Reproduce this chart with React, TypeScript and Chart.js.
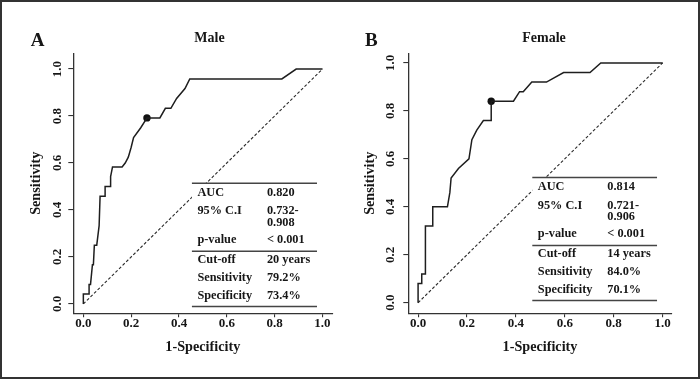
import React, { useEffect, useRef } from "react";
import { Chart, registerables } from "chart.js";

Chart.register(...registerables);

const TICKS = [0, 0.2, 0.4, 0.6, 0.8, 1.0];

const MALE_FPR = [0, 0, 0.024, 0.024, 0.03, 0.038, 0.042, 0.046, 0.056, 0.066, 0.07, 0.091, 0.091, 0.112, 0.114, 0.122, 0.162, 0.175, 0.188, 0.2, 0.21, 0.24, 0.266, 0.32, 0.343, 0.366, 0.39, 0.425, 0.445, 0.83, 0.89, 1.0];
const MALE_TPR = [0, 0.042, 0.042, 0.083, 0.083, 0.167, 0.167, 0.25, 0.25, 0.333, 0.458, 0.458, 0.5, 0.5, 0.542, 0.583, 0.583, 0.6, 0.625, 0.667, 0.708, 0.75, 0.792, 0.792, 0.833, 0.833, 0.875, 0.917, 0.958, 0.958, 1.0, 1.0];

const FEMALE_FPR = [0, 0, 0.015, 0.015, 0.03, 0.03, 0.06, 0.06, 0.12, 0.13, 0.135, 0.165, 0.208, 0.22, 0.24, 0.267, 0.299, 0.299, 0.39, 0.415, 0.43, 0.465, 0.525, 0.595, 0.703, 0.747, 1.0];
const FEMALE_TPR = [0, 0.08, 0.08, 0.12, 0.12, 0.32, 0.32, 0.4, 0.4, 0.46, 0.52, 0.56, 0.6, 0.68, 0.72, 0.76, 0.76, 0.84, 0.84, 0.88, 0.88, 0.92, 0.92, 0.96, 0.96, 1.0, 1.0];

const MALE_CUTOFF = [0.266, 0.792];
const FEMALE_CUTOFF = [0.299, 0.84];

const STAT_LABELS = ["AUC", "95% C.I", "p-value", "Cut-off", "Sensitivity", "Specificity"];
const MALE_STATS = ["0.820", "0.732-\n0.908", "< 0.001", "20 years", "79.2%", "73.4%"];
const FEMALE_STATS = ["0.814", "0.721-\n0.906", "< 0.001", "14 years", "84.0%", "70.1%"];

const FONT = "'Liberation Serif', 'Times New Roman', serif";
const INK = "#161616";

type Panel = {
  letter: string;
  title: string;
  fpr: number[];
  tpr: number[];
  cut: number[];
  stats: string[];
  xRange: [number, number];
  yRange: [number, number];
  yAxisW: number;
  padRight: number;
  yTitlePad: number;
  yTickPad: number;
  table: [number, number, number];
  letterX: number;
  titleDx: number;
};

const PANELS: Panel[] = [
  {
    letter: "A", title: "Male", fpr: MALE_FPR, tpr: MALE_TPR, cut: MALE_CUTOFF, stats: MALE_STATS,
    xRange: [-0.042, 1.041], yRange: [-0.04, 1.067], yAxisW: 73.3, padRight: 17.7,
    yTitlePad: 29.7, yTickPad: 2.7, table: [0.454, 0.977, 0.514], letterX: 30.7, titleDx: 6.7,
  },
  {
    letter: "B", title: "Female", fpr: FEMALE_FPR, tpr: FEMALE_TPR, cut: FEMALE_CUTOFF, stats: FEMALE_STATS,
    xRange: [-0.04, 1.037], yRange: [-0.044, 1.04], yAxisW: 58.3, padRight: 28.3,
    yTitlePad: 13, yTickPad: 4.5, table: [0.467, 0.977, 0.5225], letterX: 15, titleDx: 4,
  },
];

const decorPlugin = {
  id: "rocDecor",
  afterDatasetsDraw(chart: any, _args: any, opts: any) {
    const { ctx, scales } = chart;
    const xs = scales.x;
    const ys = scales.y;
    const [tx0, tx1, ty0] = opts.table;
    const x0 = xs.getPixelForValue(tx0);
    const x1 = xs.getPixelForValue(tx1);
    const top = ys.getPixelForValue(ty0);
    const ROWS = [9.4, 28, 56.4, 76.7, 94.4, 112.7];
    const MID = 68;
    const BOT = 123.2;
    ctx.save();
    ctx.fillStyle = "#ffffff";
    ctx.fillRect(x0, top, x1 - x0, BOT);
    ctx.strokeStyle = "#444";
    ctx.lineWidth = 1.5;
    [0, MID, BOT].forEach((dy) => {
      ctx.beginPath();
      ctx.moveTo(x0, top + dy);
      ctx.lineTo(x1, top + dy);
      ctx.stroke();
    });
    ctx.fillStyle = INK;
    ctx.font = `bold 12.3px ${FONT}`;
    ctx.textBaseline = "middle";
    ctx.textAlign = "left";
    STAT_LABELS.forEach((lab, i) => {
      const yy = top + ROWS[i];
      ctx.fillText(lab, x0 + 5.5, yy);
      const parts = String(opts.stats[i]).split("\n");
      parts.forEach((p: string, k: number) => {
        ctx.fillText(p, x0 + 75, yy + k * 11.7);
      });
    });
    ctx.restore();
  },
  afterDraw(chart: any, _args: any, opts: any) {
    const { ctx, chartArea } = chart;
    ctx.save();
    ctx.fillStyle = INK;
    ctx.textBaseline = "middle";
    ctx.textAlign = "left";
    ctx.font = `bold 19px ${FONT}`;
    ctx.fillText(opts.letter, opts.letterX, 41.5);
    ctx.textAlign = "center";
    ctx.font = `bold 14px ${FONT}`;
    ctx.fillText(opts.title, (chartArea.left + chartArea.right) / 2 + opts.titleDx, 38.5);
    ctx.restore();
  },
};

function RocChart({ panel, left }: { panel: Panel; left: number }) {
  const ref = useRef<HTMLCanvasElement | null>(null);
  useEffect(() => {
    if (!ref.current) return;
    const p = panel;
    const tickFont = { family: FONT, size: 13, weight: "bold" as const, lineHeight: 1 };
    const titleFont = { family: FONT, size: 14.2, weight: "bold" as const, lineHeight: 1 };
    const setTicks = (s: any) => {
      s.ticks = TICKS.map((v) => ({ value: v }));
    };
    const chart = new Chart(ref.current, {
      type: "scatter",
      data: {
        datasets: [
          {
            data: p.fpr.map((x, i) => ({ x, y: p.tpr[i] })),
            showLine: true,
            borderColor: "#1e1e1e",
            borderWidth: 1.5,
            pointRadius: 0,
            tension: 0,
            fill: false,
          },
          {
            data: [{ x: 0, y: 0 }, { x: 1, y: 1 }],
            showLine: true,
            borderColor: "#2a2a2a",
            borderWidth: 1.1,
            borderDash: [3, 2],
            pointRadius: 0,
            fill: false,
          },
          {
            data: [{ x: p.cut[0], y: p.cut[1] }],
            showLine: false,
            pointRadius: 3.7,
            backgroundColor: "#111",
            borderColor: "#111",
            borderWidth: 0,
          },
        ],
      } as any,
      options: {
        animation: false,
        responsive: false,
        maintainAspectRatio: false,
        layout: { padding: { left: 0, top: 53.3, right: p.padRight, bottom: 0 } },
        plugins: {
          legend: { display: false },
          tooltip: { enabled: false },
          rocDecor: {
            letter: p.letter,
            title: p.title,
            stats: p.stats,
            table: p.table,
            letterX: p.letterX,
            titleDx: p.titleDx,
          },
        } as any,
        scales: {
          x: {
            type: "linear",
            min: p.xRange[0],
            max: p.xRange[1],
            afterBuildTicks: setTicks,
            afterFit: (s: any) => {
              s.height = 65.7;
            },
            grid: { display: true, drawOnChartArea: false, drawTicks: true, tickLength: 4, color: "#333", lineWidth: 1.1 },
            border: { display: true, color: "#333", width: 1.3 },
            ticks: {
              font: tickFont,
              color: INK,
              padding: 0,
              maxRotation: 0,
              autoSkip: false,
              callback: (v: any) => Number(v).toFixed(1),
            },
            title: { display: true, text: "1-Specificity", font: titleFont, color: INK, padding: { top: 0, bottom: 24.3 } },
          },
          y: {
            type: "linear",
            min: p.yRange[0],
            max: p.yRange[1],
            afterBuildTicks: setTicks,
            afterFit: (s: any) => {
              s.width = p.yAxisW;
            },
            grid: { display: true, drawOnChartArea: false, drawTicks: true, tickLength: 5, color: "#333", lineWidth: 1.1 },
            border: { display: true, color: "#333", width: 1.3 },
            ticks: {
              font: tickFont,
              color: INK,
              padding: p.yTickPad,
              minRotation: 90,
              maxRotation: 90,
              crossAlign: "center",
              autoSkip: false,
              callback: (v: any) => Number(v).toFixed(1),
            },
            title: { display: true, text: "Sensitivity", font: titleFont, color: INK, padding: { top: p.yTitlePad, bottom: 0 } },
          },
        },
      } as any,
      plugins: [decorPlugin as any],
    });
    return () => chart.destroy();
  }, [panel]);
  return (
    <canvas
      ref={ref}
      width={350}
      height={379}
      style={{ position: "absolute", left, top: 0, width: 350, height: 379 }}
    />
  );
}

export default function App() {
  return (
    <div style={{ position: "fixed", left: 0, top: 0, width: 700, height: 379, background: "#fff", overflow: "hidden" }}>
      <RocChart panel={PANELS[0]} left={0} />
      <RocChart panel={PANELS[1]} left={350} />
      <div
        style={{
          position: "absolute",
          left: 0,
          top: 0,
          width: 700,
          height: 379,
          boxSizing: "border-box",
          border: "2px solid #333",
          pointerEvents: "none",
        }}
      />
    </div>
  );
}
